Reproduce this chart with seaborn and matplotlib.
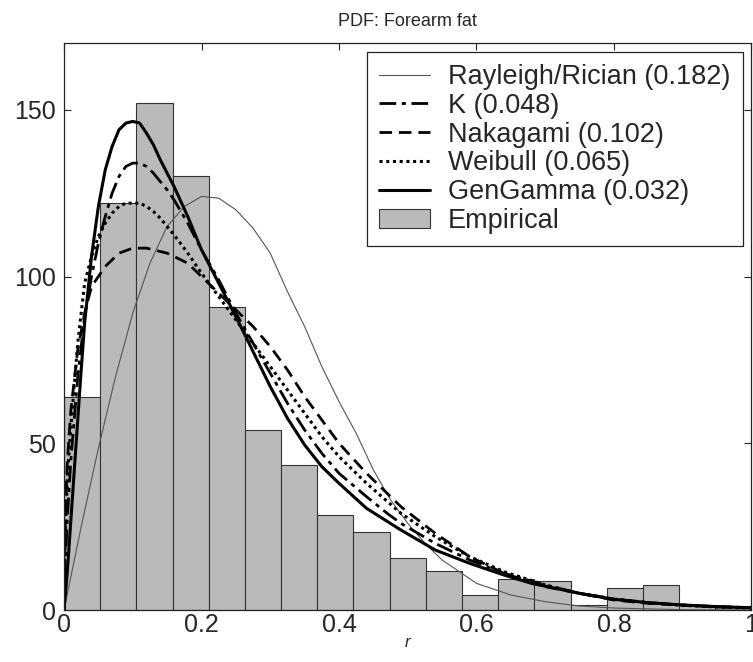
import numpy as np
import pandas as pd
import matplotlib
matplotlib.use("Agg")
import matplotlib.pyplot as plt
import seaborn as sns

# ---------------- data ----------------
bin_edges = [i / 19 for i in range(20)]
counts = [64, 122, 152, 130, 91, 54, 43.5, 28.5, 23.5, 15.5, 11.7, 4.5,
          9.3, 8.7, 1.5, 6.5, 7.5, 1.5, 1.0]

ray_x = [0, 0.025, 0.05, 0.075, 0.1, 0.125, 0.15, 0.175, 0.2, 0.225, 0.25,
         0.275, 0.3, 0.325, 0.35, 0.375, 0.4, 0.425, 0.45, 0.475, 0.5, 0.525,
         0.55, 0.6, 0.65, 0.7, 0.75, 0.8, 0.9, 1.0]
ray_y = [0, 25, 48.5, 70, 89, 104, 115, 121, 124, 123.5, 120, 114.5, 107,
         95.5, 85, 73, 62.5, 53, 42, 33, 26, 20, 15, 8, 4.5, 2.5, 1.2, 0.6,
         0.1, 0]

k_x = [0, 0.002, 0.005, 0.01, 0.02, 0.03, 0.04, 0.05, 0.06, 0.07, 0.08, 0.09,
       0.1, 0.11, 0.12, 0.13, 0.14, 0.15, 0.16, 0.18, 0.2, 0.225, 0.25, 0.275,
       0.3, 0.325, 0.35, 0.375, 0.4, 0.44, 0.47, 0.49, 0.54, 0.59, 0.64, 0.7,
       0.75, 0.8, 0.85, 0.9, 0.95, 1.0]
k_y = [0, 15, 28, 45, 70, 88, 100, 110, 118, 125, 130, 133, 134, 134, 133,
       131, 128.5, 126, 123, 116, 108, 99, 89, 80, 71, 62, 54, 47, 41, 34,
       29, 26, 20, 15, 11, 7.5, 5, 3.3, 2.2, 1.5, 1, 0.7]

nak_x = [0, 0.002, 0.005, 0.01, 0.02, 0.03, 0.04, 0.06, 0.08, 0.1, 0.12,
         0.15, 0.18, 0.2, 0.225, 0.25, 0.275, 0.3, 0.325, 0.35, 0.375, 0.4,
         0.44, 0.49, 0.54, 0.59, 0.64, 0.7, 0.75, 0.8, 0.85, 0.9, 0.95, 1.0]
nak_y = [0, 30, 45, 60, 78, 89, 97, 103, 107, 108.5, 108.5, 107, 104, 100,
         95, 90, 85, 79, 72, 64, 57, 50, 41, 31, 23, 16, 11, 7, 5, 3, 2, 1.5,
         1, 0.7]

wei_x = [0, 0.002, 0.005, 0.01, 0.02, 0.03, 0.04, 0.05, 0.06, 0.07, 0.08,
         0.09, 0.1, 0.11, 0.12, 0.13, 0.14, 0.15, 0.16, 0.18, 0.2, 0.225,
         0.25, 0.275, 0.3, 0.325, 0.35, 0.375, 0.4, 0.44, 0.49, 0.54, 0.59,
         0.64, 0.7, 0.75, 0.8, 0.85, 0.9, 0.95, 1.0]
wei_y = [0, 25, 40, 55, 80, 98, 106, 112, 116, 119, 121, 122, 122, 122, 121,
         119.5, 117.5, 115, 112.5, 107, 101, 94, 87, 80, 73, 66, 59, 52, 46,
         38, 29, 22, 16, 11.5, 7.5, 5, 3.3, 2.2, 1.4, 0.9, 0.6]

gg_x = [0, 0.005, 0.01, 0.015, 0.02, 0.025, 0.03, 0.04, 0.05, 0.06, 0.07,
        0.08, 0.09, 0.1, 0.11, 0.12, 0.13, 0.14, 0.15, 0.16, 0.18, 0.2, 0.225,
        0.25, 0.275, 0.3, 0.325, 0.35, 0.375, 0.4, 0.44, 0.49, 0.54, 0.59,
        0.64, 0.68, 0.75, 0.8, 0.85, 0.9, 0.95, 1.0]
gg_y = [0, 12, 27, 42, 57, 72, 86, 106, 121, 132, 139, 144, 146, 146.5, 146,
        143, 139.5, 135, 131, 127, 118, 108, 98, 88, 77.5, 67, 57.5, 49.5, 43,
        38, 30.5, 24, 18, 14, 10.5, 8, 5, 3.2, 2.2, 1.5, 1, 0.7]

labels = ["Rayleigh/Rician (0.182)", "K (0.048)", "Nakagami (0.102)",
          "Weibull (0.065)", "GenGamma (0.032)", "Empirical"]
title = "PDF: Forearm fat"
x_ticks = [0, 0.2, 0.4, 0.6, 0.8, 1]
x_tick_labels = ["0", "0.2", "0.4", "0.6", "0.8", "1"]
y_ticks = [0, 50, 100, 150]

# ---------------- plotting ----------------
sns.set_style("ticks")
plt.rcParams["font.family"] = ["Liberation Sans", "DejaVu Sans"]

fig = plt.figure(figsize=(7.53, 6.62), dpi=100)
ax = fig.add_axes([0.085, 0.0785, 0.913, 0.8565])

centers = [(bin_edges[i] + bin_edges[i + 1]) / 2 for i in range(len(counts))]
sns.histplot(x=centers, weights=counts, bins=bin_edges, ax=ax,
             color="#bababa", edgecolor="#333333", linewidth=0.8, alpha=1,
             stat="count", label=labels[5])

sns.lineplot(x=ray_x, y=ray_y, ax=ax, color="#555555", linewidth=0.8,
             label=labels[0], estimator=None, sort=False)
sns.lineplot(x=k_x, y=k_y, ax=ax, color="black", linewidth=2.0,
             label=labels[1], estimator=None, sort=False)
sns.lineplot(x=nak_x, y=nak_y, ax=ax, color="black", linewidth=2.0,
             label=labels[2], estimator=None, sort=False)
sns.lineplot(x=wei_x, y=wei_y, ax=ax, color="black", linewidth=2.2,
             label=labels[3], estimator=None, sort=False)
sns.lineplot(x=gg_x, y=gg_y, ax=ax, color="black", linewidth=2.2,
             label=labels[4], estimator=None, sort=False)

lines = ax.get_lines()
lines[1].set_dashes([6, 2, 1.5, 2])
lines[2].set_dashes([4.5, 2.5])
lines[3].set_dashes([1, 1.2])

ax.set_xlim(0, 1)
ax.set_ylim(0, 170)
ax.set_xticks(x_ticks)
ax.set_xticklabels(x_tick_labels)
ax.set_yticks(y_ticks)
ax.tick_params(direction="in", top=True, right=True, labelsize=18,
               length=5, width=0.8)
ax.tick_params(axis="x", pad=2)
ax.tick_params(axis="y", pad=6)
for s in ax.spines.values():
    s.set_visible(True)
    s.set_linewidth(0.9)
    s.set_color("#222222")

ax.set_title(title, fontsize=13, pad=12)
ax.set_xlabel("r", fontsize=12, style="italic", labelpad=-1)
ax.set_ylabel("")

handles, labs = ax.get_legend_handles_labels()
order = [labs.index(l) for l in labels]
leg = ax.legend([handles[i] for i in order], [labs[i] for i in order],
                loc="upper right", fontsize=19.5, frameon=True, fancybox=False,
                edgecolor="#222222", framealpha=1, borderaxespad=0.33,
                labelspacing=0.1, handlelength=1.9, handletextpad=0.65,
                borderpad=0.45)
leg.get_frame().set_linewidth(0.9)

fig.savefig("out.png", dpi=100)
